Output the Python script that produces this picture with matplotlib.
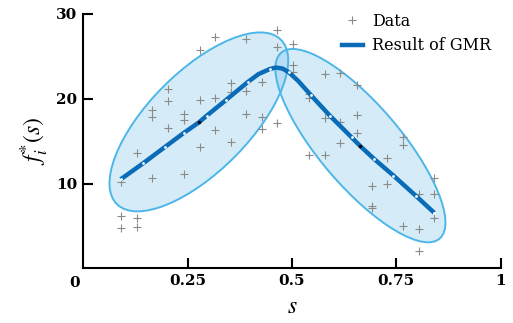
import numpy as np
import matplotlib
matplotlib.use('Agg')
import matplotlib.pyplot as plt
from matplotlib.patches import Ellipse
from matplotlib.lines import Line2D

plt.rcParams['font.family'] = ['DejaVu Serif']
plt.rcParams['mathtext.fontset'] = 'stix'

# Datos de demostracion (s, f)
data_s = [0.090, 0.090, 0.090,
          0.128, 0.128, 0.128,
          0.166, 0.166, 0.166,
          0.204, 0.204, 0.204,
          0.241, 0.241, 0.241,
          0.280, 0.280, 0.280,
          0.316, 0.316, 0.316,
          0.354, 0.354, 0.354,
          0.391, 0.391, 0.391,
          0.428, 0.428, 0.428,
          0.465, 0.465, 0.465,
          0.503, 0.503, 0.503,
          0.542, 0.542, 0.542,
          0.579, 0.579, 0.579,
          0.616, 0.616, 0.616,
          0.655, 0.655, 0.655,
          0.691, 0.691, 0.691,
          0.728, 0.728,
          0.767, 0.767, 0.767,
          0.805, 0.805, 0.805,
          0.841, 0.841, 0.841]
data_f = [10.2, 6.2, 4.8,
          13.6, 6.0, 4.85,
          18.7, 17.9, 10.7,
          21.1, 19.7, 16.5,
          18.2, 17.5, 11.1,
          25.7, 19.9, 14.3,
          27.3, 20.1, 16.3,
          21.8, 20.8, 14.95,
          27.0, 20.95, 18.2,
          22.0, 17.9, 16.4,
          28.1, 26.1, 17.1,
          26.5, 24.0, 23.2,
          20.5, 20.1, 13.4,
          22.9, 17.7, 13.4,
          23.0, 17.3, 14.8,
          21.6, 18.1, 15.95,
          9.7, 7.3, 7.1,
          13.0, 10.0,
          15.5, 14.6, 5.0,
          8.8, 4.6, 2.1,
          10.7, 8.8, 5.9]

# Resultado de GMR
gmr_s = [0.090, 0.144, 0.197, 0.242, 0.277, 0.296, 0.341, 0.394, 0.420, 0.447,
         0.462, 0.478, 0.493, 0.515, 0.545, 0.591, 0.643, 0.663, 0.697, 0.743,
         0.797, 0.841]
gmr_f = [10.5, 12.4, 14.35, 16.0, 17.2, 18.0, 19.8, 21.95, 22.9, 23.5,
         23.68, 23.55, 23.1, 22.1, 20.45, 18.0, 15.45, 14.45, 12.9, 10.95,
         8.55, 6.55]
white_idx = [0, 1, 2, 3, 5, 6, 7, 9, 12, 14, 15, 16, 18, 19, 20, 21]
black_idx = [4, 17]

# Componentes gaussianas
gmm_means = [(0.2772, 17.27), (0.6641, 14.47)]
gmm_covs = [[[0.01145, 0.3874], [0.3874, 27.8]],
            [[0.01037, -0.4621], [-0.4621, 32.45]]]


def draw_ellipse(ax, mean, cov, n_std=2):
    vals, vecs = np.linalg.eigh(np.array(cov))
    angle = np.degrees(np.arctan2(vecs[1, 1], vecs[0, 1]))
    w = 2 * n_std * np.sqrt(vals[1])
    h = 2 * n_std * np.sqrt(vals[0])
    ax.add_patch(Ellipse(mean, w, h, angle=angle, facecolor='#5ab4e5',
                         alpha=0.25, edgecolor='none', zorder=1))
    ax.add_patch(Ellipse(mean, w, h, angle=angle, facecolor='none',
                         edgecolor='#4db6e8', lw=1.4, zorder=2))


fig = plt.figure(figsize=(5.13, 3.23), dpi=100)
ax = fig.add_axes([0.162, 0.169, 0.814, 0.788])

for m, c in zip(gmm_means, gmm_covs):
    draw_ellipse(ax, m, c)

ax.plot(data_s, data_f, '+', color='#8a8a8a', ms=6, mew=0.8, zorder=3)
ax.plot(gmr_s, gmr_f, '-', color='#0a6cb8', lw=3.2, solid_capstyle='butt', zorder=4)
ax.plot([gmr_s[i] for i in white_idx], [gmr_f[i] for i in white_idx], 'o',
        color='white', ms=2, mew=0, zorder=5)
ax.plot([gmr_s[i] for i in black_idx], [gmr_f[i] for i in black_idx], 'o',
        color='black', ms=2.5, mew=0, zorder=5)

ax.set_xlim(0, 1)
ax.set_ylim(0, 30)
ax.set_xticks([0.25, 0.5, 0.75, 1])
ax.set_xticklabels(['0.25', '0.5', '0.75', '1'])
ax.set_yticks([10, 20, 30])
ax.set_yticklabels(['10', '20', '30'])
ax.tick_params(direction='in', length=7, width=1.5, labelsize=11, pad=4)
for lab in ax.get_xticklabels() + ax.get_yticklabels():
    lab.set_fontweight('bold')
ax.text(-0.02, -0.9, '0', ha='center', va='top', fontsize=11,
        fontweight='bold')
for side in ['top', 'right']:
    ax.spines[side].set_visible(False)
for side in ['left', 'bottom']:
    ax.spines[side].set_linewidth(1.5)

ax.set_xlabel('$s$', fontsize=17, labelpad=5)
ax.set_ylabel('$f_i^{*}(s)$', fontsize=17, labelpad=4)

handles = [Line2D([], [], ls='none', marker='+', color='#8a8a8a', ms=6, mew=0.8),
           Line2D([], [], color='#0a6cb8', lw=3.2)]
ax.legend(handles, ['Data', 'Result of GMR'], loc='upper left',
          bbox_to_anchor=(0.585, 1.06), frameon=False, fontsize=11.5,
          handlelength=1.3, handletextpad=0.6, labelspacing=0.45)

fig.savefig('out.png', dpi=100)
